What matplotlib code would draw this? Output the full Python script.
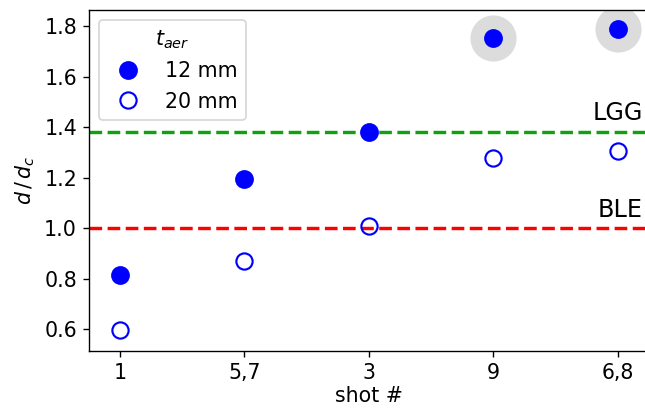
import matplotlib
matplotlib.use("Agg")
import matplotlib.pyplot as plt

# shot order as on the x axis
shots = ["1", "5,7", "3", "9", "6,8"]
d_12mm = [0.815, 1.193, 1.381, 1.753, 1.789]
d_20mm = [0.596, 0.872, 1.008, 1.279, 1.307]
highlight = [3, 4]   # shots drawn with a grey halo
lgg = 1.382
ble = 1.0

plt.rcParams["font.size"] = 12
plt.rcParams["mathtext.fontset"] = "dejavusans"

fig = plt.figure(figsize=(645 / 123, 416 / 123), dpi=123)
ax = fig.add_axes([89 / 645, 1 - 350.7 / 416, (648.6 - 89) / 645, 340.7 / 416])

x = list(range(len(shots)))

ax.axhline(lgg, color="#10a010", ls="--", lw=2, zorder=1)
ax.axhline(ble, color="red", ls="--", lw=2, zorder=1)
ax.text(0.99, lgg + 0.025, "LGG", transform=ax.get_yaxis_transform(),
        ha="right", va="bottom", fontsize=14)
ax.text(0.99, ble + 0.025, "BLE", transform=ax.get_yaxis_transform(),
        ha="right", va="bottom", fontsize=14)

ax.plot([x[i] for i in highlight], [d_12mm[i] for i in highlight], "o",
        ms=27, color="#dcdcdc", mec="none", zorder=2)
ax.plot(x, d_12mm, "o", ms=10, color="blue", mec="blue", ls="none",
        label="12 mm", zorder=3)
ax.plot(x, d_20mm, "o", ms=9.5, mfc="none", mec="blue", mew=1.25, ls="none",
        label="20 mm", zorder=3)

ax.set_xticks(x)
ax.set_xticklabels(shots)
ax.set_xlim(-0.25, 4.25)
ax.set_ylim(0.516, 1.863)
ax.set_xlabel("shot #", labelpad=2)
ax.set_ylabel(r"$d\,/\,d_c$")

ax.legend(title=r"$t_{aer}$", loc="upper left", title_fontsize=12)

fig.savefig("out.png", dpi=123)
